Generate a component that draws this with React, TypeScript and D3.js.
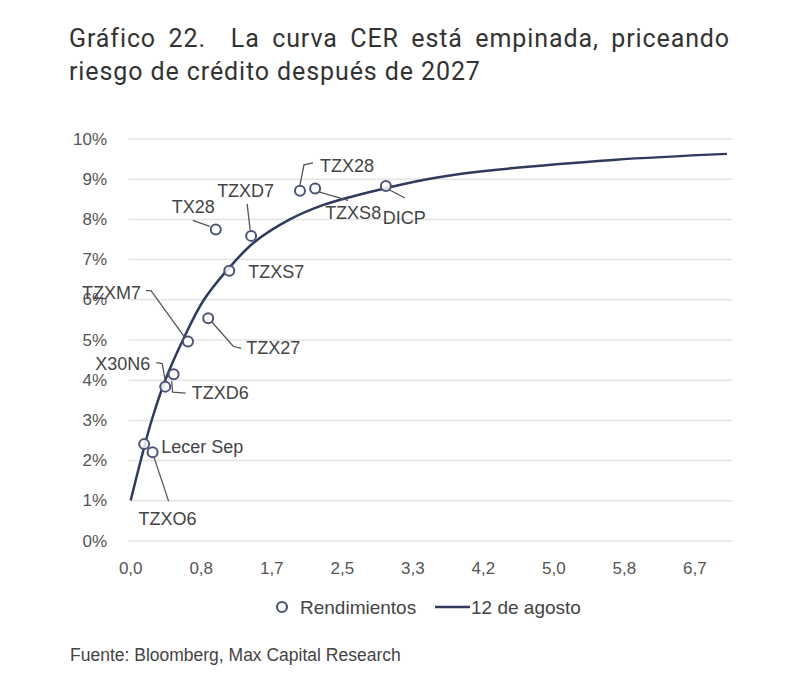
import * as d3 from "d3";
import React, { useLayoutEffect, useRef, useState } from "react";

// bonos CER: duration (años) y rendimiento (%)
const bonds = ["Lecer Sep", "TZXO6", "X30N6", "TZXD6", "TZXM7", "TZX27", "TZXS7", "TX28", "TZXD7", "TZX28", "TZXS8", "DICP"];
const duration = [0.16, 0.26, 0.41, 0.51, 0.68, 0.92, 1.17, 1.01, 1.43, 2.01, 2.19, 3.03];
const yieldPct = [2.41, 2.21, 3.84, 4.15, 4.96, 5.54, 6.72, 7.75, 7.59, 8.71, 8.77, 8.83];

// curva ajustada 12 de agosto
const curveX = [0, 0.12, 0.25, 0.41, 0.62, 0.86, 1.15, 1.46, 1.89, 2.29, 2.84, 3.52, 4.15, 5.73, 7.08];
const curveY = [1.01, 2.01, 3.01, 4.0, 5.0, 5.97, 6.75, 7.42, 8.0, 8.36, 8.68, 9.0, 9.19, 9.48, 9.63];

const xTickValues = [0, 0.8375, 1.675, 2.5125, 3.35, 4.1875, 5.025, 5.8625, 6.7];
const xTickLabels = ["0,0", "0,8", "1,7", "2,5", "3,3", "4,2", "5,0", "5,8", "6,7"];
const yTickValues = [0, 1, 2, 3, 4, 5, 6, 7, 8, 9, 10];

const title1 = "Gráfico 22.  La curva CER está empinada, priceando";
const title2 = "riesgo de crédito después de 2027";

// posición de etiquetas (px relativos al punto)
type Lbl = { dx: number; dy: number; anchor?: string; leader?: [number, number][] };
const labelLayout: Record<string, Lbl> = {
  "Lecer Sep": { dx: 17, dy: 3 },
  TZXO6: { dx: -14, dy: 67, leader: [[1, 4], [16, 49]] },
  X30N6: { dx: -15, dy: -23, anchor: "end", leader: [[-9, -24], [-3, -23], [0, -6]] },
  TZXD6: { dx: 18, dy: 19, leader: [[-2, 7], [-1, 18], [12, 19]] },
  TZXM7: { dx: -47, dy: -49, anchor: "end", leader: [[-42, -51], [-37, -51], [-3, -4]] },
  TZX27: { dx: 38, dy: 30, leader: [[3, 3], [25, 28], [33, 30]] },
  TZXS7: { dx: 19, dy: 1 },
  TX28: { dx: -44, dy: -22, leader: [[-23, -9], [-6, -3]] },
  TZXD7: { dx: -34, dy: -45, leader: [[-4, -32], [-1, -6]] },
  TZX28: { dx: 20, dy: -25, leader: [[0, -6], [4, -26], [13, -28]] },
  TZXS8: { dx: 10, dy: 25, leader: [[2, 3], [33, 12]] },
  DICP: { dx: -3, dy: 32, leader: [[4, 4], [19, 12]] },
};

const W = 800;
const H = 675;
const curveColor = "#2f3a5c";
const dotColor = "#4b5474";
const gridColor = "#e4e4e4";
const tickText = "#555";
const labelText = "#444";
const font = "'Liberation Sans', Arial, sans-serif";

export default function App() {
  const x = d3.scaleLinear().domain([0, 7.14]).range([130.7, 732]);
  const y = d3.scaleLinear().domain([0, 10]).range([541, 139]);

  // justificar la primera línea del título
  const t1 = useRef<SVGTextElement>(null);
  const [ws, setWs] = useState(0);
  useLayoutEffect(() => {
    const el = t1.current;
    if (!el) return;
    const len = el.getComputedTextLength();
    const spaces = (title1.match(/ /g) || []).length;
    setWs(Math.max(0, (661 - len) / spaces));
  }, []);

  const curvePts = curveX.map((v, i) => [v, curveY[i]] as [number, number]);
  const line = d3
    .line<[number, number]>()
    .x((d) => x(d[0]))
    .y((d) => y(d[1]))
    .curve(d3.curveCatmullRom.alpha(0.5));

  const leaderPath = d3.line<[number, number]>();

  return (
    <svg
      width={W}
      height={H}
      viewBox={`0 0 ${W} ${H}`}
      style={{ position: "absolute", left: 0, top: 0, background: "#fff" }}
    >
      {/* título */}
      <text
        ref={t1}
        x={69}
        y={47}
        fontFamily="Roboto, sans-serif"
        fontSize={25}
        letterSpacing={0.9}
        wordSpacing={ws}
        fill="#333"
        style={{ whiteSpace: "pre" }}
      >
        {title1}
      </text>
      <text x={69} y={80} fontFamily="Roboto, sans-serif" fontSize={25} letterSpacing={0.9} fill="#333">
        {title2}
      </text>

      {/* grilla + eje Y */}
      {yTickValues.map((t) => (
        <g key={t}>
          <line x1={x.range()[0] - 2} x2={x.range()[1]} y1={y(t)} y2={y(t)} stroke={gridColor} strokeWidth={1.5} />
          <text
            x={107}
            y={y(t)}
            textAnchor="end"
            dominantBaseline="central"
            fontFamily={font}
            fontSize={17}
            fill={tickText}
          >
            {t}%
          </text>
        </g>
      ))}

      {/* eje X */}
      {xTickValues.map((t, i) => (
        <text
          key={t}
          x={x(t)}
          y={568}
          textAnchor="middle"
          dominantBaseline="central"
          fontFamily={font}
          fontSize={17}
          fill={tickText}
        >
          {xTickLabels[i]}
        </text>
      ))}

      {/* curva */}
      <path d={line(curvePts) ?? undefined} fill="none" stroke={curveColor} strokeWidth={2.5} />

      {/* líneas guía */}
      {bonds.map((b, i) => {
        const L = labelLayout[b];
        if (!L.leader) return null;
        const cx = x(duration[i]);
        const cy = y(yieldPct[i]);
        const pts = L.leader.map((p) => [cx + p[0], cy + p[1]] as [number, number]);
        return <path key={`l-${b}`} d={leaderPath(pts) ?? undefined} fill="none" stroke="#555" strokeWidth={1.3} />;
      })}

      {/* puntos */}
      {bonds.map((b, i) => (
        <circle
          key={`c-${b}`}
          cx={x(duration[i])}
          cy={y(yieldPct[i])}
          r={5}
          fill="#fff"
          fillOpacity={0.85}
          stroke={dotColor}
          strokeWidth={2}
        />
      ))}

      {/* etiquetas */}
      {bonds.map((b, i) => {
        const L = labelLayout[b];
        return (
          <text
            key={`t-${b}`}
            x={x(duration[i]) + L.dx}
            y={y(yieldPct[i]) + L.dy}
            textAnchor={L.anchor ?? "start"}
            dominantBaseline="central"
            fontFamily={font}
            fontSize={18}
            fill={labelText}
          >
            {b}
          </text>
        );
      })}

      {/* leyenda */}
      <circle cx={282} cy={607} r={5} fill="#fff" stroke={dotColor} strokeWidth={2.2} />
      <text x={300} y={607} dominantBaseline="central" fontFamily={font} fontSize={19} fill={labelText}>
        Rendimientos
      </text>
      <line x1={435} x2={470} y1={607} y2={607} stroke={curveColor} strokeWidth={2.5} />
      <text x={471} y={607} dominantBaseline="central" fontFamily={font} fontSize={19} fill={labelText}>
        12 de agosto
      </text>

      {/* fuente */}
      <text x={70} y={655} dominantBaseline="central" fontFamily={font} fontSize={17.5} fill={labelText}>
        Fuente: Bloomberg, Max Capital Research
      </text>
    </svg>
  );
}
